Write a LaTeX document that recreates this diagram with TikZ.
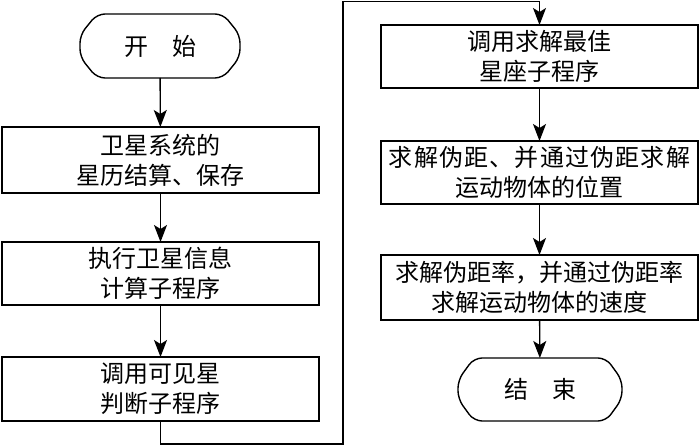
\documentclass[tikz,border=0pt]{standalone}
\usepackage{fontspec}
\newfontfamily\cjk{Noto Sans CJK SC}
\usetikzlibrary{arrows.meta}
\begin{document}
\begin{tikzpicture}[x=1pt,y=-1pt,
  every node/.style={inner sep=0pt,outer sep=0pt},
  txt/.style={font=\cjk\fontsize{24}{30}\selectfont,align=center},
  procbox/.style={txt,draw,line width=1.4pt,minimum width=317pt,minimum height=64pt},
  termbox/.style={txt,minimum height=64pt},
  termline/.style={line width=1.4pt,rounded corners=8pt},
  arr/.style={line width=1.4pt,-{Stealth[length=17pt,width=13pt,inset=4pt]}},
  lin/.style={line width=1.4pt}]
\useasboundingbox (0,0) rectangle (700,446);

% left column
\node[termbox,minimum width=160pt] (s) at (160,46) {开\hspace{1em}始};
\draw[termline] ([xshift=17pt]s.north west) -- ([xshift=-17pt]s.north east)
  -- ([yshift=-21pt]s.north east) -- ([yshift=21pt]s.south east)
  -- ([xshift=-17pt]s.south east) -- ([xshift=17pt]s.south west)
  -- ([yshift=21pt]s.south west) -- ([yshift=-21pt]s.north west) -- cycle;

\node[procbox,minimum height=66pt] (b1) at (160.5,160) {卫星系统的\\星历结算、保存};
\node[procbox,minimum height=63pt] (b2) at (160.5,273.5) {执行卫星信息\\计算子程序};
\node[procbox,minimum height=64pt] (b3) at (160.5,389) {调用可见星\\判断子程序};

% right column
\node[procbox,minimum height=63pt] (b4) at (539.5,56.5) {调用求解最佳\\星座子程序};
\node[procbox,minimum height=63pt] (b5) at (539.5,172.5) {{\addfontfeature{LetterSpace=5}求解伪距、并通过伪距求解}\\运动物体的位置};
\node[procbox,minimum height=65pt] (b6) at (539.5,287.5) {求解伪距率，并通过伪距率\\求解运动物体的速度};

\node[termbox,minimum width=164pt,minimum height=63pt] (e) at (540,389.5) {结\hspace{1em}束};
\draw[termline] ([xshift=16pt]e.north west) -- ([xshift=-16pt]e.north east)
  -- ([yshift=-22pt]e.north east) -- ([yshift=22pt]e.south east)
  -- ([xshift=-16pt]e.south east) -- ([xshift=16pt]e.south west)
  -- ([yshift=22pt]e.south west) -- ([yshift=-22pt]e.north west) -- cycle;

% connectors
\draw[arr] (s) -- (b1);
\draw[arr] (b1) -- (b2);
\draw[arr] (b2) -- (b3);
\coordinate (c2) at (343,444);
\coordinate (c3) at (343,1.5);
\draw[arr] (b3.south) |- (c2) -- (c3) -| (b4.north);
\draw[arr] (b4) -- (b5);
\draw[arr] (b5) -- (b6);
\draw[arr] (b6) -- (e);
\end{tikzpicture}
\end{document}
